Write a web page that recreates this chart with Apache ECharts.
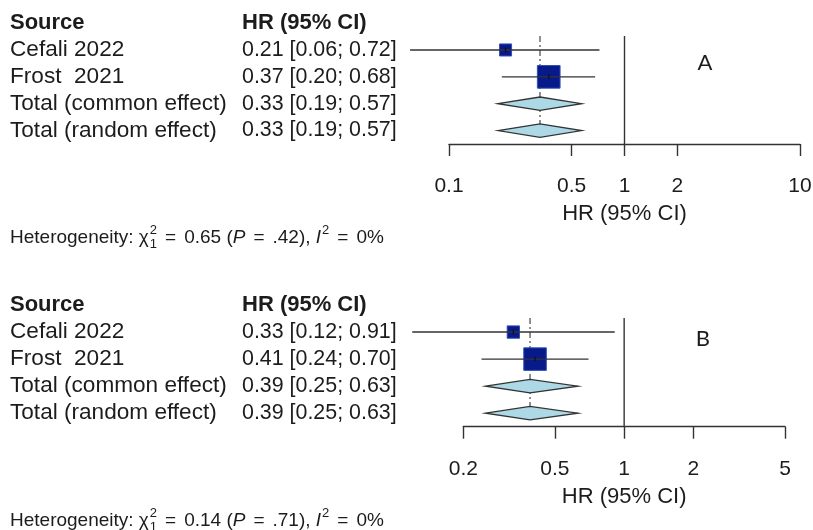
<!DOCTYPE html>
<html>
<head>
<meta charset="utf-8">
<script src="https://cdn.jsdelivr.net/npm/echarts@6/dist/echarts.min.js"></script>
<style>html,body{margin:0;padding:0;background:#fff}#main{width:813px;height:530px}</style>
</head>
<body>
<div id="main"></div>
<script>
// ---------------- data ----------------
const studyNames = ['Cefali 2022', 'Frost  2021'];
const pooledNames = ['Total (common effect)', 'Total (random effect)'];

const hrA = [0.21, 0.37];
const lowA = [0.06, 0.20];
const upA = [0.72, 0.68];
const weightA = [22, 78];
const poolHrA = [0.33, 0.33];
const poolLowA = [0.19, 0.19];
const poolUpA = [0.57, 0.57];

const hrB = [0.33, 0.41];
const lowB = [0.12, 0.24];
const upB = [0.91, 0.70];
const weightB = [23, 77];
const poolHrB = [0.39, 0.39];
const poolLowB = [0.25, 0.25];
const poolUpB = [0.63, 0.63];

const ticksA = [0.1, 0.5, 1, 2, 10];
const ticksB = [0.2, 0.5, 1, 2, 5];

const panelLabels = ['A', 'B'];
const hetChi2 = ['0.65', '0.14'];
const hetDf = ['1', '1'];
const hetP = ['.42', '.71'];
const hetI2 = ['0%', '0%'];

// ---------------- layout ----------------
const FONT = '"Liberation Sans", Arial, Helvetica, sans-serif';
const Y_MIN = -0.52, Y_MAX = 3.5;
const INK = '#333333';
const TXT = '#1c1c1c';

const panels = [
  {hr: hrA, lo: lowA, up: upA, w: weightA, phr: poolHrA, plo: poolLowA, pup: poolUpA, ticks: ticksA, letterX: 2.876, letterRow: 0.5},
  {hr: hrB, lo: lowB, up: upB, w: weightB, phr: poolHrB, plo: poolLowB, pup: poolUpB, ticks: ticksB, letterX: 2.2, letterRow: 0.25}
];

function buildData(p) {
  const d = [];
  // reference line at 1 and dashed pooled line (kind 2 / 3): [kind, yDummy, x, y1, y2, 0]
  d.push([2, 0, 1, Y_MIN, Y_MAX, 0]);
  d.push([3, 0, p.phr[0], Y_MIN, 3.25, 0]);
  for (let i = 0; i < p.hr.length; i++) d.push([0, i, p.hr[i], p.lo[i], p.up[i], p.w[i]]);
  for (let j = 0; j < p.phr.length; j++) d.push([1, p.hr.length + j, p.phr[j], p.plo[j], p.pup[j], 0]);
  return d;
}

function renderItem(params, api) {
  const kind = api.value(0);
  const y = api.value(1);
  const est = api.value(2), lo = api.value(3), hi = api.value(4), w = api.value(5);
  const unit = Math.abs(api.coord([1, 1])[1] - api.coord([1, 0])[1]);
  if (kind === 2 || kind === 3) {
    const p1 = api.coord([est, lo]);
    const p2 = api.coord([est, hi]);
    return {
      type: 'line',
      shape: {x1: p1[0], y1: p1[1], x2: p2[0], y2: p2[1]},
      style: kind === 2 ? {stroke: INK, lineWidth: 1.4}
                        : {stroke: '#555', lineWidth: 1.3, lineDash: [6, 3, 2, 3]}
    };
  }
  const c = api.coord([est, y]);
  const l = api.coord([lo, y]);
  const h = api.coord([hi, y]);
  if (kind === 0) {
    const s = 25.7 * Math.sqrt(w / 100);
    return {
      type: 'group',
      children: [
        {type: 'rect', shape: {x: c[0] - s / 2, y: c[1] - s / 2, width: s, height: s},
         style: {fill: '#08198a', stroke: '#3050b8', lineWidth: 1}},
        {type: 'line', shape: {x1: l[0], y1: c[1], x2: h[0], y2: c[1]},
         style: {stroke: INK, lineWidth: 1.4}},
        {type: 'line', shape: {x1: c[0], y1: c[1] - 2.5, x2: c[0], y2: c[1] + 2.5},
         style: {stroke: '#111', lineWidth: 1.2}}
      ]
    };
  }
  const hh = 0.25 * unit;
  return {
    type: 'polygon',
    shape: {points: [[l[0], c[1]], [c[0], c[1] - hh], [h[0], c[1]], [c[0], c[1] + hh]]},
    style: {fill: '#add8e6', stroke: INK, lineWidth: 1.3}
  };
}

function fmtTick(v) { return String(parseFloat(Number(v).toPrecision(3))); }

const grids = [
  {left: 449, width: 351, top: 36, height: 108},
  {left: 463.3, width: 321.7, top: 318, height: 108.7}
];

const option = {
  animation: false,
  backgroundColor: '#fff',
  grid: grids.map(g => Object.assign({outerBoundsMode: 'none', containLabel: false}, g)),
  xAxis: panels.map((p, i) => ({
    type: 'log', logBase: 10, gridIndex: i, position: 'bottom',
    min: p.ticks[0], max: p.ticks[p.ticks.length - 1],
    name: 'HR (95% CI)', nameLocation: 'middle', nameGap: 59,
    nameTextStyle: {fontFamily: FONT, fontSize: 22, color: TXT},
    axisLine: {show: true, onZero: false, lineStyle: {color: INK, width: 1.4}},
    axisTick: {show: true, inside: false, length: 12, customValues: p.ticks,
               lineStyle: {color: INK, width: 1.4}},
    axisLabel: {show: true, customValues: p.ticks, margin: 32, formatter: fmtTick,
                fontFamily: FONT, fontSize: 21, color: TXT},
    splitLine: {show: false},
    minorTick: {show: false}
  })),
  yAxis: panels.map((p, i) => ({
    type: 'value', gridIndex: i, inverse: true, min: Y_MIN, max: Y_MAX, show: false
  })),
  series: panels.map((p, i) => ({
    type: 'custom', xAxisIndex: i, yAxisIndex: i, clip: false,
    renderItem: renderItem,
    encode: {x: 2, y: 1},
    data: buildData(p)
  }))
};

const chart = echarts.init(document.getElementById('main'), null, {renderer: 'canvas'});
chart.setOption(option);

// ---------------- text table ----------------
const mctx = document.createElement('canvas').getContext('2d');
function measure(t, size, style) {
  mctx.font = (style || '') + ' ' + size + 'px ' + FONT;
  return mctx.measureText(t).width;
}
function ciText(e, l, u) { return e.toFixed(2) + ' [' + l.toFixed(2) + '; ' + u.toFixed(2) + ']'; }

const graphics = [];
function addText(x, y, t, opts) {
  graphics.push({
    type: 'text', x: x, y: y, silent: true,
    style: Object.assign({text: t, fontFamily: FONT, fontSize: 22, fill: TXT,
                          verticalAlign: 'middle', align: 'left'}, opts || {})
  });
}

panels.forEach((p, g) => {
  const row = i => chart.convertToPixel({yAxisIndex: g}, i);
  addText(10, row(-1), 'Source', {fontWeight: 'bold'});
  addText(242, row(-1), 'HR (95% CI)', {fontWeight: 'bold'});
  for (let i = 0; i < p.hr.length; i++) {
    addText(10, row(i), studyNames[i], {fontSize: 22.6});
    addText(242, row(i), ciText(p.hr[i], p.lo[i], p.up[i]), {fontSize: 21.4});
  }
  for (let j = 0; j < p.phr.length; j++) {
    const r = p.hr.length + j;
    addText(10, row(r), pooledNames[j], {fontSize: 22.6});
    addText(242, row(r), ciText(p.phr[j], p.plo[j], p.pup[j]), {fontSize: 21.4});
  }
  // panel letter
  const lx = chart.convertToPixel({xAxisIndex: g}, p.letterX);
  graphics.push({type: 'text', x: lx, y: row(p.letterRow), silent: true,
    style: {text: panelLabels[g], fontFamily: 'Lato, "Open Sans", sans-serif', fontSize: 22,
            fill: TXT, align: 'center', verticalAlign: 'middle'}});
  // heterogeneity line (plotmath-like spacing around "=")
  const hy = row(Y_MAX) + 94;
  const HS = 19;
  const EQ = 8;
  let x = 10;
  const parts = [
    {t: 'Heterogeneity: \u03c7'},
    {stack: ['2', hetDf[g]]},
    {gap: EQ}, {t: '='}, {gap: EQ},
    {t: hetChi2[g] + ' ('},
    {t: 'P', st: 'italic'},
    {gap: EQ}, {t: '='}, {gap: EQ},
    {t: hetP[g] + '), '},
    {t: 'I', st: 'italic'},
    {sup: '2'},
    {gap: EQ}, {t: '='}, {gap: EQ},
    {t: hetI2[g]}
  ];
  parts.forEach(pt => {
    if (pt.gap) {
      x += pt.gap;
    } else if (pt.stack) {
      const s = 13;
      graphics.push({type: 'text', x: x + 1, y: hy - 7.5, silent: true,
        style: {text: pt.stack[0], fontFamily: FONT, fontSize: s, fill: TXT, verticalAlign: 'middle'}});
      graphics.push({type: 'text', x: x + 1, y: hy + 6.5, silent: true,
        style: {text: pt.stack[1], fontFamily: FONT, fontSize: s, fill: TXT, verticalAlign: 'middle'}});
      x += Math.max(measure(pt.stack[0], s), measure(pt.stack[1], s)) + 1;
    } else if (pt.sup) {
      const s = 13;
      graphics.push({type: 'text', x: x + 1, y: hy - 7.5, silent: true,
        style: {text: pt.sup, fontFamily: FONT, fontSize: s, fill: TXT, verticalAlign: 'middle'}});
      x += measure(pt.sup, s) + 1;
    } else {
      graphics.push({type: 'text', x: x, y: hy, silent: true,
        style: {text: pt.t, fontFamily: FONT, fontSize: HS, fontStyle: pt.st || 'normal',
                fill: TXT, verticalAlign: 'middle'}});
      x += measure(pt.t, HS, pt.st);
    }
  });
});

chart.setOption({graphic: graphics});
</script>
</body>
</html>
